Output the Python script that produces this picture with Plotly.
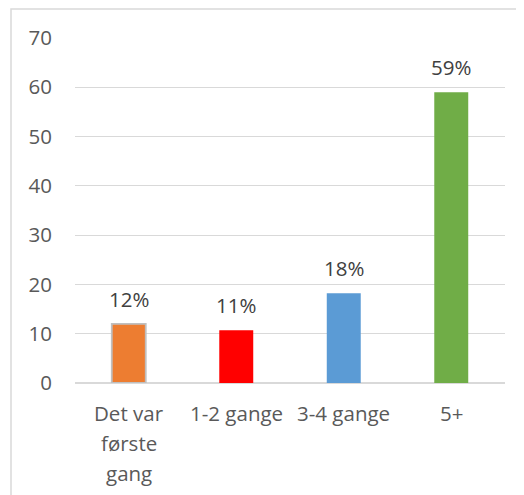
import plotly.graph_objects as go

categories = ["Det var\nførste\ngang", "1-2 gange", "3-4 gange", "5+"]
values = [12, 10.7, 18.2, 59]
value_labels = ["12%", "11%", "18%", "59%"]
bar_colors = ["#ED7D31", "#FF0000", "#5B9BD5", "#70AD47"]
bar_line_colors = ["#BFBFBF", "#FF0000", "#5B9BD5", "#70AD47"]
bar_line_widths = [1.8, 0, 0, 0]
y_ticks = [0, 10, 20, 30, 40, 50, 60, 70]

FONT = "Open Sans"

fig = go.Figure(go.Bar(
    x=list(range(len(categories))),
    y=values,
    marker=dict(color=bar_colors, line=dict(color=bar_line_colors, width=bar_line_widths)),
    hoverinfo="skip",
))

annotations = []
for i, (v, lab) in enumerate(zip(values, value_labels)):
    annotations.append(dict(x=i, y=v, xref="x", yref="y", text=lab, showarrow=False,
                            yanchor="middle", yshift=25,
                            font=dict(family=FONT, size=20.5, color="#404040")))
for i, cat in enumerate(categories):
    for j, line in enumerate(cat.split("\n")):
        annotations.append(dict(x=i, y=0, xref="x", yref="paper", text=line, showarrow=False,
                                yanchor="middle", yshift=-30 - 30 * j,
                                font=dict(family=FONT, size=20.5, color="#595959")))

fig.update_layout(
    width=516, height=487,
    margin=dict(l=67, r=19, t=30, b=112),
    paper_bgcolor="white", plot_bgcolor="white",
    showlegend=False,
    bargap=0.684,
    annotations=annotations,
    xaxis=dict(range=[-0.5, 3.5], showticklabels=False, showgrid=False, zeroline=False,
               showline=False, ticks="", fixedrange=True),
    yaxis=dict(range=[0, 70], tickvals=y_ticks, showgrid=True, gridcolor="#D9D9D9", gridwidth=1,
               zeroline=True, zerolinecolor="#D9D9D9", zerolinewidth=1.5, showline=False,
               ticks="", ticklabelstandoff=22,
               tickfont=dict(family=FONT, size=20.5, color="#595959")),
    shapes=[dict(type="rect", xref="paper", yref="paper",
                 x0=(11 - 75) / 430, x1=(540 - 75) / 430,
                 y0=(383 - 520) / 345, y1=(383 - 9) / 345,
                 line=dict(color="#D9D9D9", width=1.5), fillcolor="rgba(0,0,0,0)", layer="below")],
)

fig.write_html("out.html")
